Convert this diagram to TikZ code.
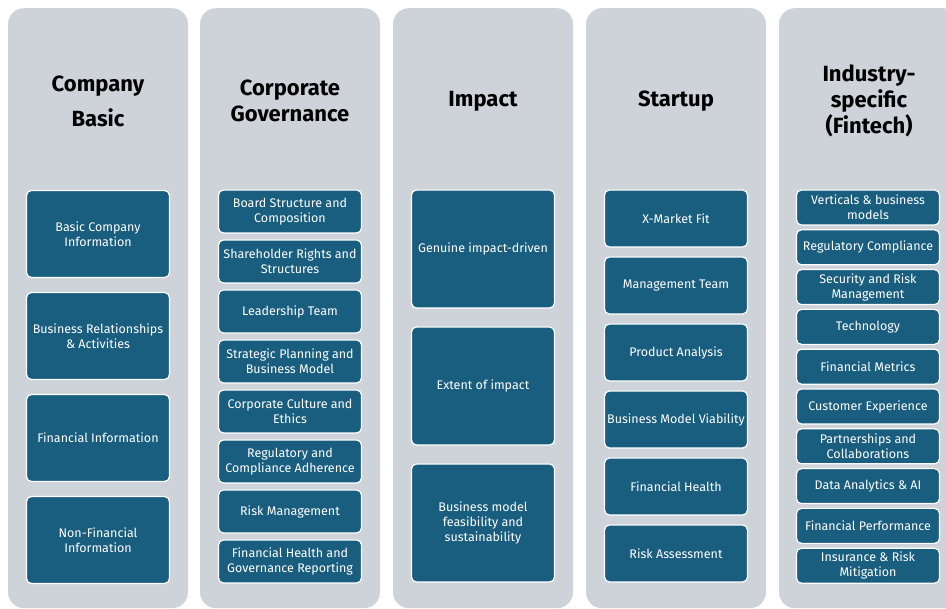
\documentclass[tikz,border=0pt]{standalone}
\usepackage{fontspec}
\setmainfont{Fira Sans}
\usepackage{tikz}
\usetikzlibrary{positioning}
\definecolor{lanegrey}{HTML}{CED3DA}
\definecolor{petrol}{HTML}{195E7E}

\begin{document}
\begin{tikzpicture}[x=1pt, y=-1pt,
    lane/.style={fill=lanegrey, rounded corners=16pt, minimum width=180pt, minimum height=600pt, anchor=north, inner sep=0pt},
    lanetitle/.style={font=\bfseries\fontsize{22}{26}\selectfont, align=center, text=black},
    cell/.style={draw=white, line width=1.2pt, fill=petrol, rounded corners=5pt, text=white, align=center,
      minimum width=143pt, inner sep=1pt, font=\fontsize{12.5}{15}\selectfont}]
        \useasboundingbox (0,0) rectangle (946,609);
        % the five lanes
        \node[lane] (basic) at (98,8) {};
        \node[lane] (gov) at (290,8) {};
        \node[lane] (impact) at (483,8) {};
        \node[lane] (startup) at (676,8) {};
        \node[lane] (fintech) at (869,8) {};
        % lane titles
        \node[lanetitle, font=\bfseries\fontsize{22}{35}\selectfont] (basicT) at (98,101) {Company\\Basic};
        \node[lanetitle] (govT) at (290,101) {Corporate\\Governance};
        \node[lanetitle] (impactT) at (483,101) {Impact};
        \node[lanetitle] (startupT) at (676,101) {Startup};
        \node[lanetitle] (fintechT) at (869,101) {Industry-\\specific\\(Fintech)};
        % company basic
        \foreach \t [count=\i] in {Basic Company\\Information, Business Relationships\\\& Activities,
            Financial Information, Non-Financial\\Information}
          \node[cell, minimum height=87pt] (basic\i) at (98, {234+(\i-1)*102}) {\t};
        % corporate governance
        \foreach \t [count=\i] in {Board Structure and\\Composition, Shareholder Rights and\\Structures,
            Leadership Team, Strategic Planning and\\Business Model, Corporate Culture and\\Ethics,
            Regulatory and\\Compliance Adherence, Risk Management,
            Financial Health and\\Governance Reporting}
          \node[cell, minimum height=43pt] (gov\i) at (290, {211.5+(\i-1)*50}) {\t};
        % impact
        \foreach \t [count=\i] in {Genuine impact-driven, Extent of impact,
            Business model\\feasibility and\\sustainability}
          \node[cell, minimum height=118pt] (impact\i) at (483, {249+(\i-1)*137}) {\t};
        % startup
        \foreach \t [count=\i] in {X-Market Fit, Management Team, Product Analysis,
            Business Model Viability, Financial Health, Risk Assessment}
          \node[cell, minimum height=57pt] (startup\i) at (676, {218.5+(\i-1)*67}) {\t};
        % industry-specific
        \foreach \t [count=\i] in {Verticals \& business\\models, Regulatory Compliance,
            Security and Risk\\Management, Technology, Financial Metrics, Customer Experience,
            Partnerships and\\Collaborations, Data Analytics \& AI, Financial Performance,
            Insurance \& Risk\\Mitigation}
          \node[cell, minimum height=35pt] (fintech\i) at (868, {207.5+(\i-1)*39.8}) {\t};
      \end{tikzpicture}
\end{document}
